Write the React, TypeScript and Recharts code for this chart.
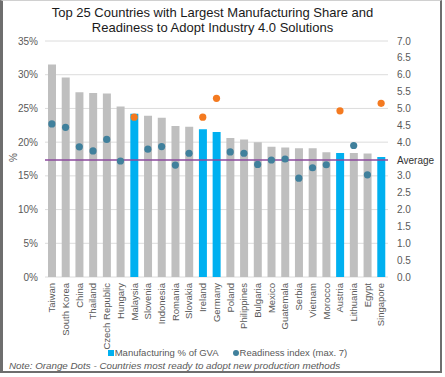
import {
  Bar,
  CartesianGrid,
  Cell,
  ComposedChart,
  ReferenceLine,
  Scatter,
  XAxis,
  YAxis,
} from "recharts";

const countries = [
  "Taiwan", "South Korea", "China", "Thailand", "Czech Republic", "Hungary", "Malaysia",
  "Slovenia", "Indonesia", "Romania", "Slovakia", "Ireland", "Germany", "Poland",
  "Philippines", "Bulgaria", "Mexico", "Guatemala", "Serbia", "Vietnam", "Morocco",
  "Austria", "Lithuania", "Egypt", "Singapore",
];
const manufacturingShare = [
  31.5, 29.6, 27.4, 27.3, 27.2, 25.3, 24.2, 23.9, 23.6, 22.4, 22.3, 21.9, 21.5,
  20.6, 20.4, 20.0, 19.3, 19.2, 19.1, 19.1, 18.5, 18.4, 18.4, 18.3, 17.8,
];
const readinessIndex = [
  4.54, 4.44, 3.86, 3.74, 4.08, 3.44, 4.74, 3.79, 3.87, 3.32, 3.67, 4.74, 5.3,
  3.71, 3.67, 3.34, 3.47, 3.5, 2.93, 3.24, 3.33, 4.93, 3.9, 3.03, 5.15,
];
const mostReady = ["Malaysia", "Ireland", "Germany", "Austria", "Singapore"];
const averageShare = 17.35;
const leftTicks = [0, 5, 10, 15, 20, 25, 30, 35];
const rightTicks = [0, 0.5, 1, 1.5, 2, 2.5, 3, 4, 4.5, 5, 5.5, 6, 6.5, 7];

const GRAY = "#bfbfbf";
const BLUE = "#00b0f0";
const TEAL = "#40809c";
const ORANGE = "#f47a20";
const PURPLE = "#8b4a9c";
const TICK = "#595959";
const FONT = "'Liberation Sans', Arial, sans-serif";

const data = countries.map((name, i) => ({
  name,
  share: manufacturingShare[i],
  readiness: readinessIndex[i],
  ready: mostReady.includes(name),
}));

function CountryTick({ x, y, payload }: { x?: number; y?: number; payload?: { value: string } }) {
  return (
    <g transform={`translate(${x},${(y ?? 0) - 2})`}>
      <text
        transform="rotate(-90)"
        textAnchor="end"
        dy="0.35em"
        fontSize={9.5}
        fill={TICK}
        fontFamily={FONT}
      >
        {payload?.value}
      </text>
    </g>
  );
}

function Dot(props: { cx?: number; cy?: number; payload?: { ready: boolean } }) {
  const { cx, cy, payload } = props;
  return <circle cx={cx} cy={cy} r={3.6} fill={payload?.ready ? ORANGE : TEAL} />;
}

export default function App() {
  return (
    <div
      style={{
        position: "absolute",
        left: 0,
        top: 0,
        width: 445,
        height: 377,
        fontFamily: FONT,
        background: "#fff",
      }}
    >
      <div
        style={{
          position: "absolute",
          left: 0,
          top: 0,
          width: 437,
          height: 370,
          borderLeft: "3px solid #6e6e6e",
          borderRight: "2px solid #6e6e6e",
          borderBottom: "2px solid #6e6e6e",
          borderTop: "1px solid #d0d0d0",
        }}
      />
      <div
        style={{
          position: "absolute",
          left: 0,
          top: 6,
          width: 425,
          textAlign: "center",
          fontSize: 13,
          lineHeight: "14.5px",
          color: "#1a1a1a",
        }}
      >
        Top 25 Countries with Largest Manufacturing Share and
        <br />
        Readiness to Adopt Industry 4.0 Solutions
      </div>
      <ComposedChart
        width={445}
        height={377}
        data={data}
        margin={{ top: 41, right: 0, bottom: 30, left: 0 }}
        style={{ position: "absolute", left: 0, top: 0 }}
      >
        <CartesianGrid yAxisId="r" vertical={false} stroke="#dcdcdc" />
        <XAxis
          dataKey="name"
          interval={0}
          height={70}
          tick={<CountryTick />}
          axisLine={false}
          tickLine={false}
        />
        <YAxis
          yAxisId="l"
          domain={[0, 35]}
          ticks={leftTicks}
          tickFormatter={(v: number) => `${v}%`}
          width={45}
          tickSize={5}
          tickMargin={2}
          axisLine={false}
          tickLine={false}
          tick={{ fontSize: 10, fill: TICK, fontFamily: FONT }}
          label={{ value: "%", angle: -90, position: "insideLeft", offset: 13, dy: 3, fontSize: 10, fill: TICK }}
        />
        <YAxis
          yAxisId="r"
          orientation="right"
          domain={[0, 7]}
          ticks={rightTicks}
          tickFormatter={(v: number) => v.toFixed(1)}
          width={57}
          tickSize={6}
          tickMargin={3}
          axisLine={false}
          tickLine={false}
          tick={{ fontSize: 10, fill: TICK, fontFamily: FONT, textAnchor: "start" }}
        />
        <Bar yAxisId="l" dataKey="share" barSize={8} isAnimationActive={false}>
          {data.map((d) => (
            <Cell key={d.name} fill={d.ready ? BLUE : GRAY} />
          ))}
        </Bar>
        <ReferenceLine
          yAxisId="l"
          y={averageShare}
          stroke={PURPLE}
          strokeWidth={1.5}
          label={{ value: "Average", position: "right", offset: 9, fontSize: 10, fill: "#333", fontFamily: FONT }}
        />
        <Scatter yAxisId="r" dataKey="readiness" shape={<Dot />} isAnimationActive={false} />
      </ComposedChart>
      <div
        style={{
          position: "absolute",
          left: 0,
          top: 347,
          width: 455,
          display: "flex",
          justifyContent: "center",
          gap: 14,
          fontSize: 9.5,
          color: TICK,
        }}
      >
        <span style={{ display: "flex", alignItems: "center" }}>
          <span style={{ width: 6, height: 6, background: BLUE, marginRight: 1 }} />
          Manufacturing % of GVA
        </span>
        <span style={{ display: "flex", alignItems: "center" }}>
          <span style={{ width: 6, height: 6, borderRadius: 3, background: TEAL, marginRight: 1 }} />
          Readiness index (max. 7)
        </span>
      </div>
      <div
        style={{
          position: "absolute",
          left: 9,
          top: 360,
          fontSize: 9.8,
          fontStyle: "italic",
          color: TICK,
        }}
      >
        Note: Orange Dots - Countries most ready to adopt new production methods
      </div>
    </div>
  );
}
